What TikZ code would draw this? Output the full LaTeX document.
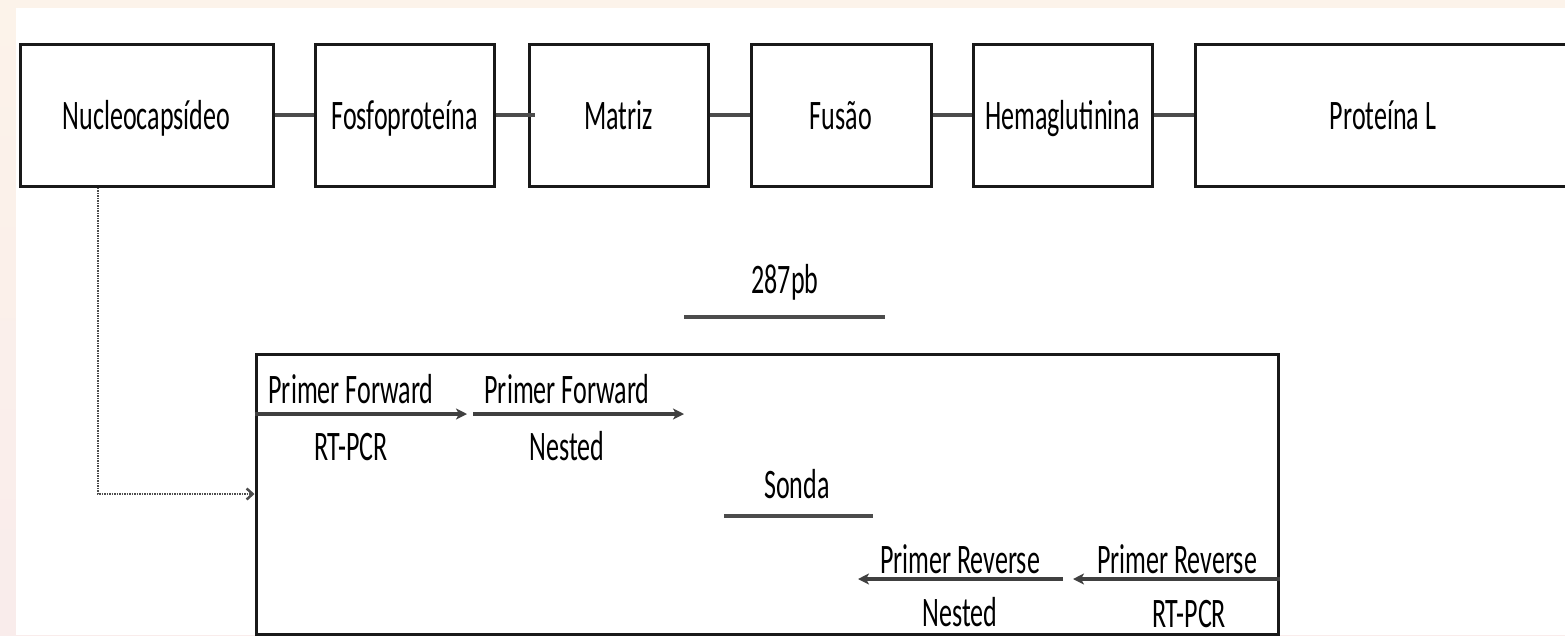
\documentclass[tikz,border=0pt]{standalone}
\usepackage{fontspec}
\setmainfont{Carlito}[FakeStretch=0.62]
\usetikzlibrary{arrows.meta}

\definecolor{edgepeach}{RGB}{252,243,234}
\definecolor{edgepink}{RGB}{249,236,235}

\begin{document}
\begin{tikzpicture}[x=1pt,y=-1pt,
  font=\fontsize{42}{48}\selectfont,
  gene/.style={draw=black!90,line width=3pt,minimum height=142pt,
    text height=28pt,text depth=0pt,inner sep=0pt},
  link/.style={draw=black!70,line width=4pt},
  primer/.style={draw=black!75,line width=3.5pt,
    -{Stealth[length=11pt,width=11pt,inset=3pt]}},
  bar/.style={draw=black!70,line width=4pt},
  lbl/.style={anchor=base,inner sep=0pt},
  probe/.style={draw=black!70,line width=2.5pt,dash pattern=on 1.5pt off 1pt,
    -{Straight Barb[length=6pt,width=11pt]}}]
  \useasboundingbox (0,0) rectangle (1565,635);
  \shade[top color=edgepeach,bottom color=edgepink] (0,0) rectangle (1565,635);
  \fill[white] (16,8) rectangle (1565,635);

  % genome
  \node[gene,minimum width=253pt] (nuc) at (146.5,115) {Nucleocapsídeo};
  \node[gene,minimum width=179pt] (fosfo) at (404.5,115) {Fosfoproteína};
  \node[gene,minimum width=179pt] (matriz) at (618.5,115) {Matriz};
  \node[gene,minimum width=180pt] (fusao) at (841,115) {Fusão};
  \node[gene,minimum width=179pt] (hema) at (1062.5,115) {Hemaglutinina};
  \node[gene,minimum width=376pt] (protL) at (1383,115) {Proteína L};
  \draw[link] (nuc.east) -- (fosfo.west);
  \draw[link] (fosfo.east) -- ([xshift=7pt]matriz.west);
  \draw[link] (matriz.east) -- (fusao.west);
  \draw[link] (fusao.east) -- (hema.west);
  \draw[link] (hema.east) -- (protL.west);

  % amplified region
  \node[draw=black!90,line width=3pt,minimum width=1022pt,minimum height=280pt,
    inner sep=0pt] (amp) at (767,494) {};
  \draw[probe] ([xshift=-48.5pt]nuc.south) |- (amp.west);

  \node[lbl] (bp) at (785,293) {287pb};
  \coordinate (bpL) at (684,317);
  \coordinate (bpR) at (885,317);
  \draw[bar] (bpL) -- (bpR);

  \coordinate (fwdA) at (467,414);
  \coordinate (fwdB0) at (473,414);
  \coordinate (fwdB) at (684,414);
  \draw[primer] (amp.west |- fwdA) -- (fwdA);
  \draw[primer] (fwdB0) -- (fwdB);
  \node[lbl] (fwdAt) at (351,403) {Primer Forward};
  \node[lbl] (fwdAb) at (351,460) {RT-PCR};
  \node[lbl] (fwdBt) at (567,403) {Primer Forward};
  \node[lbl] (fwdBb) at (567,460) {Nested};

  \node[lbl] (sonda) at (797,498) {Sonda};
  \coordinate (sondaL) at (724,516);
  \coordinate (sondaR) at (873,516);
  \draw[bar] (sondaL) -- (sondaR);

  \coordinate (revA) at (1073,579);
  \coordinate (revB0) at (1063,579);
  \coordinate (revB) at (858,579);
  \draw[primer] (amp.east |- revA) -- (revA);
  \draw[primer] (revB0) -- (revB);
  \node[lbl] (revBt) at (960,573) {Primer Reverse};
  \node[lbl] (revBb) at (960,626) {Nested};
  \node[lbl] (revAt) at (1177,573) {Primer Reverse};
  \node[lbl] (revAb) at (1189,627) {RT-PCR};
\end{tikzpicture}
\end{document}
